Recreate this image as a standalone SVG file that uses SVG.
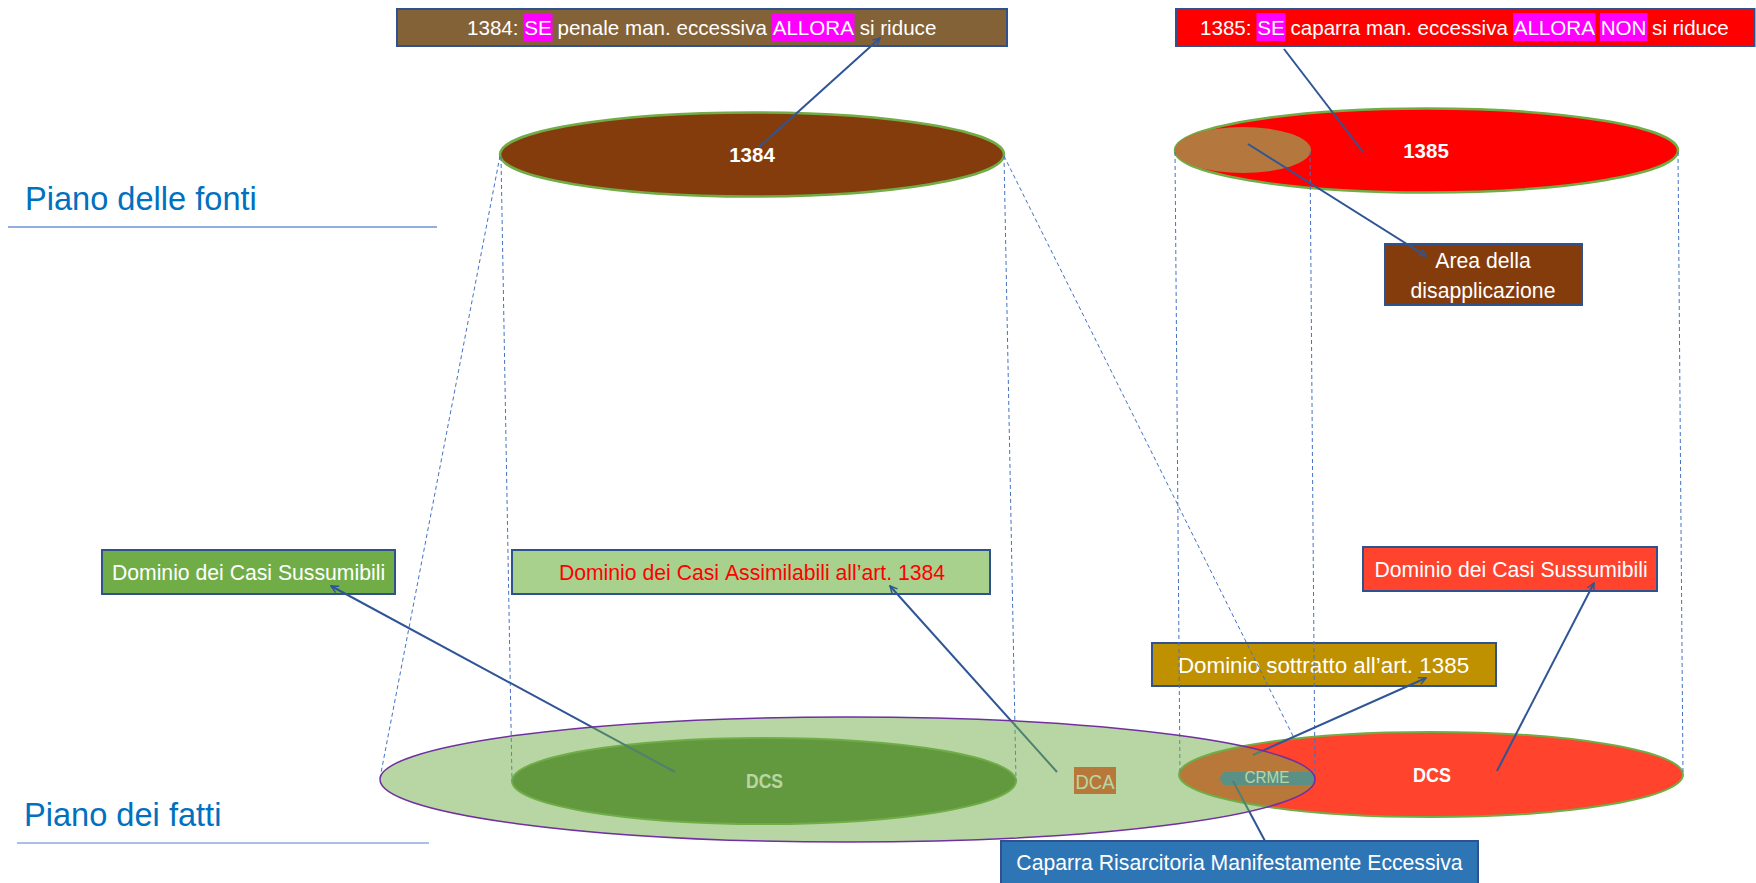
<svg xmlns="http://www.w3.org/2000/svg" width="1756" height="883" viewBox="0 0 1756 883">
<style>
text{font-family:"Liberation Sans",Arial,sans-serif;font-kerning:none}
.box{stroke:#2F528F;stroke-width:2}
.lbl{font-size:21.2px;fill:#fff;text-anchor:middle}
.hl{fill:#FF00FF}
.dash{fill:none;stroke:#4472C4;stroke-width:1;stroke-dasharray:4 3}
.con{fill:none;stroke:#2F5597;stroke-width:2}
.plane{font-size:32.6px;fill:#0070C0}
.b{font-weight:bold}
</style>
<defs>
<marker id="arr" viewBox="0 0 10 10" refX="9" refY="5" markerWidth="9" markerHeight="9" markerUnits="userSpaceOnUse" orient="auto">
<path d="M1,1 L9,5 L1,9" fill="none" stroke="#2F5597" stroke-width="1.6"/>
</marker>
</defs>
<rect width="1756" height="883" fill="#fff"/>

<g id="piano-fonti">
<text class="plane" x="25" y="210">Piano delle fonti</text>
<line x1="8" y1="227" x2="437" y2="227" stroke="#6E93D4" stroke-width="1.3"/>
</g>
<g id="piano-fatti">
<text class="plane" x="24" y="826">Piano dei fatti</text>
<line x1="17" y1="843" x2="429" y2="843" stroke="#8FAADC" stroke-width="1.3"/>
</g>

<g id="ellipse-1384">
<ellipse cx="752" cy="154.5" rx="252" ry="42" fill="#843C0C" stroke="#70AD47" stroke-width="2.5"/>
<text class="b" x="752" y="162" font-size="20.5" fill="#fff" text-anchor="middle">1384</text>
</g>
<g id="ellipse-1385">
<ellipse cx="1426.5" cy="150.5" rx="251.5" ry="42" fill="#FF0000" stroke="#70AD47" stroke-width="2.5"/>
<text class="b" x="1426" y="157.5" font-size="20.5" fill="#fff" text-anchor="middle">1385</text>
</g>
<g id="area-disapplicazione-top">
<ellipse cx="1243" cy="150" rx="68" ry="23" fill="#B4773E"/>
</g>

<g id="box-1384">
<rect class="box" x="397" y="9" width="610" height="37" fill="#846237"/>
<rect class="hl" x="523.5" y="13" width="29" height="28"/>
<rect class="hl" x="772" y="13" width="82.5" height="28"/>
<text x="467" y="35" font-size="20.6" fill="#fff">1384: SE penale man. eccessiva ALLORA si riduce</text>
</g>
<g id="box-1385">
<rect class="box" x="1176" y="9" width="578.5" height="37" fill="#FF0000"/>
<rect class="hl" x="1256.5" y="13" width="29" height="28"/>
<rect class="hl" x="1513" y="13" width="82.5" height="28"/>
<rect class="hl" x="1600" y="13" width="47.5" height="28"/>
<text x="1200" y="35" font-size="20.6" fill="#fff">1385: SE caparra man. eccessiva ALLORA NON si riduce</text>
</g>
<g id="box-area">
<rect class="box" x="1385" y="244" width="197" height="61" fill="#843C0C"/>
<text class="lbl" x="1483" y="268">Area della</text>
<text class="lbl" x="1483" y="297.5">disapplicazione</text>
</g>

<g id="dcs-1385">
<ellipse cx="1431" cy="774.5" rx="252" ry="42.5" fill="#FF432D" stroke="#70AD47" stroke-width="2"/>
<text class="b" x="1432" y="782" font-size="20" fill="#fff" text-anchor="middle" textLength="38" lengthAdjust="spacingAndGlyphs">DCS</text>
</g>
<g id="dcs-1384">
<ellipse cx="764" cy="781" rx="252" ry="43" fill="#548235" stroke="#70AD47" stroke-width="2"/>
<text class="b" x="764.5" y="788" font-size="20" fill="#fff" text-anchor="middle" textLength="37" lengthAdjust="spacingAndGlyphs">DCS</text>
</g>
<g id="dca-label">
<rect x="1074" y="767" width="42" height="27" fill="#FF432D"/>
<text x="1095" y="789" font-size="20" fill="#fff" text-anchor="middle" textLength="39" lengthAdjust="spacingAndGlyphs">DCA</text>
</g>
<g id="crme">
<path d="M1219,778.5 L1224,772 L1309,772 Q1316,772 1316,778.5 Q1316,785 1309,785 L1224,785 Z" fill="#4472C4"/>
<text x="1267" y="783" font-size="16" fill="#fff" text-anchor="middle" textLength="45" lengthAdjust="spacingAndGlyphs">CRME</text>
</g>

<g id="box-dcs-1384">
<rect class="box" x="102" y="550" width="293" height="44" fill="#70AD47"/>
<text class="lbl" x="248.5" y="579.5">Dominio dei Casi Sussumibili</text>
</g>
<g id="box-dca-1384">
<rect class="box" x="512" y="550" width="478" height="44" fill="#A9D18E"/>
<text class="lbl" x="752" y="579.5" font-size="21.6" style="fill:#FF0000">Dominio dei Casi Assimilabili all’art. 1384</text>
</g>
<g id="box-dcs-1385">
<rect class="box" x="1363" y="547" width="294" height="44" fill="#FF432D"/>
<text class="lbl" x="1511" y="577">Dominio dei Casi Sussumibili</text>
</g>
<g id="box-sottratto">
<rect class="box" x="1152" y="643" width="344" height="43" fill="#BF9000"/>
<text class="lbl" x="1323.5" y="672.5" style="font-size:22.4px">Dominio sottratto all’art. 1385</text>
</g>
<g id="box-crme">
<rect class="box" x="1001" y="841" width="477" height="46" fill="#2E75B6"/>
<text class="lbl" x="1239.5" y="870">Caparra Risarcitoria Manifestamente Eccessiva</text>
</g>

<g id="connectors">
<path class="dash" d="M500,156 L380,778"/>
<path class="dash" d="M501,157 L512,781"/>
<path class="dash" d="M1004,156 L1016,781"/>
<path class="dash" d="M1004,156 L1294,738"/>
<path class="dash" d="M1175,152 L1180,775"/>
<path class="dash" d="M1310,151 L1315,778"/>
<path class="dash" d="M1678,152 L1683,774"/>
<path class="con" d="M759,147 L880,38" marker-end="url(#arr)"/>
<path class="con" d="M1363,152 L1284,49"/>
<path class="con" d="M1248,144 L1426,256" marker-end="url(#arr)"/>
<path class="con" d="M675,772 L331,586" marker-end="url(#arr)"/>
<path class="con" d="M1057,772 L890,586" marker-end="url(#arr)"/>
<path class="con" d="M1497,771 L1594,583" marker-end="url(#arr)"/>
<path class="con" d="M1253,755 L1426,678" marker-end="url(#arr)"/>
<path class="con" d="M1233,781 L1265,841"/>
</g>

<g id="dca-1384">
<ellipse cx="847.5" cy="779.5" rx="467.5" ry="62.5" fill="#70AD47" fill-opacity="0.5" stroke="#7030A0" stroke-width="1.5"/>
</g>
</svg>
